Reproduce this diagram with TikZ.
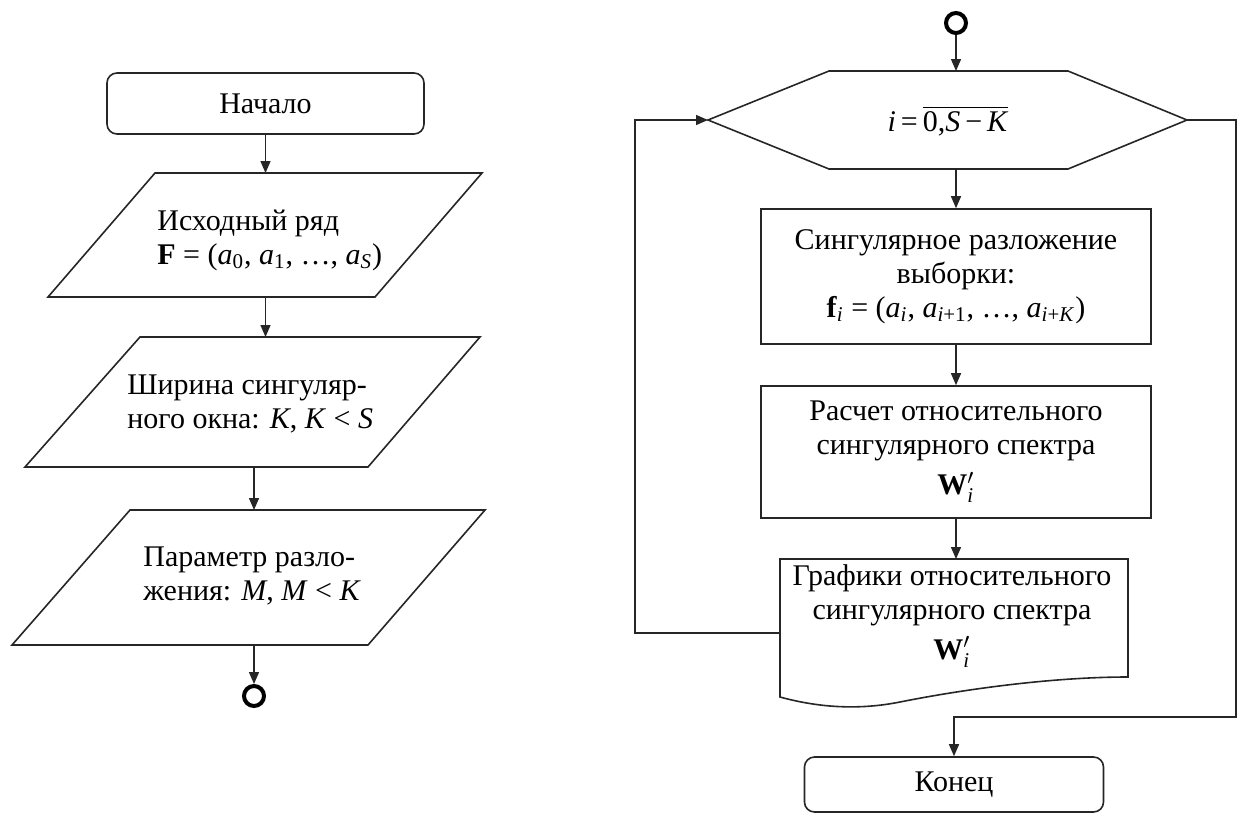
\documentclass[tikz,border=0pt]{standalone}
\usepackage{fontspec}
\setmainfont{Liberation Serif}
\usepackage{amsmath}
\usetikzlibrary{arrows.meta,calc}
\begin{document}
\begin{tikzpicture}[x=0.5pt,y=-0.5pt,
  shp/.style={draw=black!85, line width=0.8pt},
  arr/.style={draw=black!85, line width=0.7pt, -{Triangle[length=6pt,width=5pt]}},
  lbl/.style={font=\fontsize{15}{17}\selectfont, text=black, inner sep=0pt},
  term/.style={shp, rounded corners=5pt},
  proc/.style={shp},
  conn/.style={draw=black, circle, line width=2pt, minimum size=10pt, inner sep=0pt}]
\useasboundingbox (0,0) rectangle (1237,814);

% ---------------- left column ----------------
\node[term, lbl, minimum width=158.5pt, minimum height=30.5pt] (start) at (265.5,103.5) {Начало};

\draw[shp] (155,173) -- (482,173) -- (375,297) -- (48,297) -- cycle;
\coordinate (p1T) at (265.5,173);
\coordinate (p1B) at (265.5,297);
\node[lbl, align=left, anchor=west] (p1) at (157,240)
  {Исходный ряд\\\textbf{F} = (\textit{a}\textsubscript{0}, \textit{a}\textsubscript{1}, \ldots, \textit{a}\textsubscript{\textit{S}})};

\draw[shp] (140,337) -- (480,337) -- (368,467) -- (25,467) -- cycle;
\coordinate (p2T) at (265.5,337);
\coordinate (p2B) at (254,467);
\node[lbl, align=left, anchor=west] (p2) at (127,404)
  {Ширина сингуляр-\\ного окна: \textit{K}, \textit{K} < \textit{S}};

\draw[shp] (130,510) -- (485,510) -- (368,645) -- (12,645) -- cycle;
\coordinate (p3T) at (254,510);
\coordinate (p3B) at (254,645);
\node[lbl, align=left, anchor=west] (p3) at (143,576)
  {Параметр разло-\\жения: \textit{M}, \textit{M} < \textit{K}};

\node[conn] (c1) at (254,696) {};

\draw[arr] (start.south) -- (p1T);
\draw[arr] (p1B) -- (p2T);
\draw[arr] (p2B) -- (p3T);
\draw[arr] (p3B) -- (c1.north);

% ---------------- right column ----------------
\node[conn] (c2) at (956,23) {};

\coordinate (hexL) at (708,120);
\coordinate (hexR) at (1187,120);
\coordinate (hexT) at (956,71);
\coordinate (hexB) at (956,169);
\draw[shp] (hexL) -- (829,71) -- (1068,71) -- (hexR) -- (1068,169) -- (829,169) -- cycle;
\node[lbl] (hex) at (948,121)
  {\textit{i}\,=\,$\overline{\mbox{0,\textit{S}\,−\,\textit{K}}}$};

\node[proc, lbl, align=center, minimum width=195pt, minimum height=67.5pt] (r1) at (956,276.5)
  {Сингулярное разложение\\выборки:\\\textbf{f}\textsubscript{\textit{i}} = (\textit{a}\textsubscript{\textit{i}}, \textit{a}\textsubscript{\textit{i}+1}, \ldots, \textit{a}\textsubscript{\textit{i}+\textit{K}})};

\node[proc, lbl, align=center, minimum width=195pt, minimum height=66pt] (r2) at (956,452)
  {Расчет относительного\\сингулярного спектра\\[3pt]\textbf{W}$'_{\textit{i}}$};

\draw[shp] (780,559) -- (1128,559) -- (1128,677)
  .. controls (1050,677) and (960,690) .. (900,702)
  .. controls (860,710) and (820,708) .. (780,697) -- cycle;
\coordinate (docT) at (956,559);
\coordinate (docL) at (780,633);
\node[lbl, align=center] (doc) at (952,616)
  {Графики относительного\\сингулярного спектра\\[3pt]\textbf{W}$'_{\textit{i}}$};

\node[term, lbl, minimum width=149.5pt, minimum height=27.5pt] (endbox) at (954,784.5) {Конец};

\draw[arr] (c2.south) -- (hexT);
\draw[arr] (hexB) -- (r1.north);
\draw[arr] (r1.south) -- (r2.north);
\draw[arr] (r2.south) -- (docT);
\draw[arr] (docL) -- ++(-145,0) |- (hexL);
\draw[arr] (hexR) -- ++(49,0) -- ++(0,597) -| (endbox.north);
\end{tikzpicture}
\end{document}
